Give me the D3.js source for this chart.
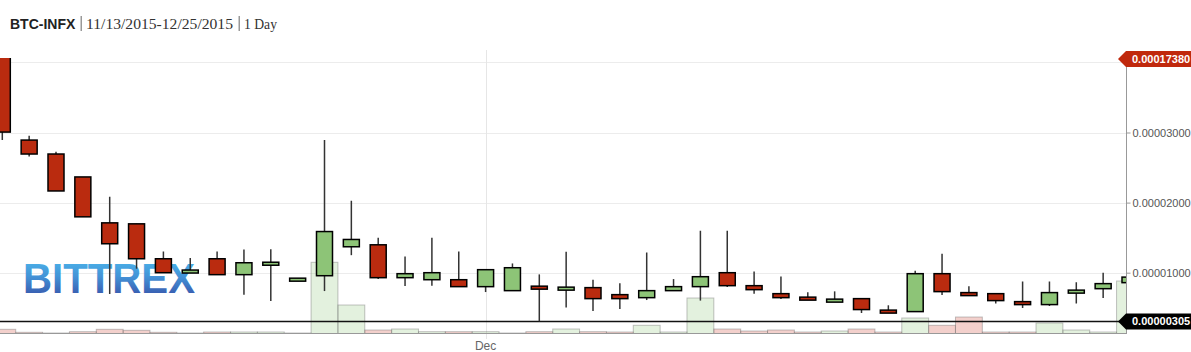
<!DOCTYPE html>
<html><head><meta charset="utf-8">
<script src="https://cdn.jsdelivr.net/npm/d3@7"></script>
<style>body{margin:0;background:#fff;}svg{display:block;}</style>
</head><body>
<svg id="c" width="1191" height="352"></svg>
<script>
const dates = ["2015-11-13","2015-11-14","2015-11-15","2015-11-16","2015-11-17","2015-11-18","2015-11-19","2015-11-20","2015-11-21","2015-11-22","2015-11-23","2015-11-24","2015-11-25","2015-11-26","2015-11-27","2015-11-28","2015-11-29","2015-11-30","2015-12-01","2015-12-02","2015-12-03","2015-12-04","2015-12-05","2015-12-06","2015-12-07","2015-12-08","2015-12-09","2015-12-10","2015-12-11","2015-12-12","2015-12-13","2015-12-14","2015-12-15","2015-12-16","2015-12-17","2015-12-18","2015-12-19","2015-12-20","2015-12-21","2015-12-22","2015-12-23","2015-12-24","2015-12-25"];
const open  = [0.00012000,0.00002892,0.00002693,0.00002366,0.00001711,0.00001697,0.00001199,0.00001000,0.00001199,0.00000972,0.00001114,0.00000886,0.00000957,0.00001370,0.00001398,0.00000929,0.00000900,0.00000900,0.00000801,0.00000744,0.00000801,0.00000758,0.00000787,0.00000687,0.00000644,0.00000744,0.00000801,0.00001000,0.00000815,0.00000701,0.00000644,0.00000587,0.00000630,0.00000459,0.00000445,0.00000986,0.00000716,0.00000701,0.00000587,0.00000545,0.00000716,0.00000772,0.00000858];
const high  = [0.00017380,0.00002953,0.00002725,0.00002366,0.00002085,0.00001697,0.00001303,0.00001208,0.00001303,0.00001331,0.00001336,0.00000915,0.00002892,0.00002028,0.00001498,0.00001232,0.00001498,0.00001303,0.00001043,0.00001132,0.00000976,0.00001299,0.00000900,0.00000848,0.00001289,0.00000909,0.00001597,0.00001597,0.00001018,0.00000947,0.00000720,0.00000734,0.00000630,0.00000535,0.00001028,0.00001270,0.00000805,0.00000701,0.00000876,0.00000876,0.00000862,0.00001000,0.00000937];
const low   = [0.00002892,0.00002659,0.00002166,0.00001797,0.00000696,0.00001057,0.00001000,0.00001000,0.00000972,0.00000687,0.00000596,0.00000886,0.00000738,0.00001250,0.00000909,0.00000809,0.00000815,0.00000801,0.00000724,0.00000744,0.00000305,0.00000502,0.00000454,0.00000482,0.00000610,0.00000744,0.00000602,0.00000795,0.00000701,0.00000624,0.00000616,0.00000587,0.00000425,0.00000431,0.00000445,0.00000681,0.00000673,0.00000559,0.00000496,0.00000525,0.00000559,0.00000639,0.00000858];
const close = [0.00003006,0.00002693,0.00002166,0.00001797,0.00001413,0.00001199,0.00001000,0.00001033,0.00000972,0.00001142,0.00001142,0.00000915,0.00001587,0.00001474,0.00000929,0.00000986,0.00001000,0.00000801,0.00001043,0.00001071,0.00000772,0.00000787,0.00000630,0.00000630,0.00000744,0.00000801,0.00000943,0.00000815,0.00000758,0.00000644,0.00000616,0.00000616,0.00000474,0.00000431,0.00000986,0.00000730,0.00000673,0.00000602,0.00000545,0.00000716,0.00000744,0.00000844,0.00000937];
const volume = [3.7,0.7,0,1.3,3.7,2.7,0.7,0,1,1,1,0,70.7,28,3,4,1.3,1.3,1.3,0,1.3,4,1.3,1,7.7,1,35,4,2,3,1,2,4,1,15,7.7,16,1,1,10,3,1,52];
const gridTicks = [0.00001,0.00002,0.00003,0.00004];
const yTickLabels = [0.00001,0.00002,0.00003];
const maxLabel = "0.00017380";
const lastLine = 0.00000305;
const lastLabel = "0.00000305";

const svg = d3.select("#c");
const W = 1191, plotL = 0, plotR = 1126.5, plotT = 58, plotB = 333;
const parse = d3.utcParse("%Y-%m-%d");
const data = dates.map((d,i)=>({date:parse(d),o:open[i],h:high[i],l:low[i],c:close[i],v:volume[i]}));

const x = d3.scaleUtc().domain([data[0].date, data[data.length-1].date]).range([2.3, 1130]);
const step = x(data[1].date) - x(data[0].date);
const y = d3.scaleLinear().domain([0, 0.00004]).range([342.8, 62.4]);
const yv = d3.scaleLinear().domain([0, 100]).range([plotB, plotB-100]);

const defs = svg.append("defs");
defs.append("clipPath").attr("id","plot").append("rect")
  .attr("x",plotL).attr("y",plotT).attr("width",plotR-plotL).attr("height",plotB-plotT);
const grad = defs.append("linearGradient").attr("id","logo").attr("x1",0).attr("y1",0).attr("x2",0).attr("y2",1);
grad.append("stop").attr("offset","0%").attr("stop-color","#44b8ee");
grad.append("stop").attr("offset","45%").attr("stop-color","#3a8fd6");
grad.append("stop").attr("offset","100%").attr("stop-color","#2a3c9c");

// title
const t = svg.append("g");
t.append("text").attr("x",10).attr("y",28.5).attr("font-family","Liberation Sans, Arial, sans-serif")
  .attr("font-weight","bold").attr("font-size",14).attr("fill","#222").text("BTC-INFX");
t.append("rect").attr("x",80.5).attr("y",16).attr("width",1.5).attr("height",15).attr("fill","#999");
t.append("text").attr("x",86).attr("y",28.5).attr("font-family","Liberation Serif, Georgia, serif")
  .attr("font-size",15).attr("fill","#333").attr("textLength",147).attr("lengthAdjust","spacingAndGlyphs").text("11/13/2015-12/25/2015");
t.append("rect").attr("x",238.5).attr("y",16).attr("width",1.5).attr("height",15).attr("fill","#999");
t.append("text").attr("x",244).attr("y",28.5).attr("font-family","Liberation Serif, Georgia, serif")
  .attr("font-size",15).attr("fill","#333").attr("textLength",33).attr("lengthAdjust","spacingAndGlyphs").text("1 Day");

// grid
const g = svg.append("g");
g.selectAll("line.hg").data(gridTicks).join("line").attr("class","hg")
  .attr("x1",plotL).attr("x2",plotR).attr("y1",d=>Math.round(y(d))+0.5).attr("y2",d=>Math.round(y(d))+0.5)
  .attr("stroke","#ececec").attr("stroke-width",1);
const xTicks = [parse("2015-12-01")];
g.selectAll("line.vg").data(xTicks).join("line").attr("class","vg")
  .attr("x1",d=>Math.round(x(d))+0.5).attr("x2",d=>Math.round(x(d))+0.5).attr("y1",plotT-8).attr("y2",plotB+6)
  .attr("stroke","#e6e6e6").attr("stroke-width",1);
g.selectAll("text.xl").data(xTicks).join("text").attr("class","xl")
  .attr("x",d=>x(d)).attr("y",350).attr("text-anchor","middle")
  .attr("font-family","Liberation Sans, Arial, sans-serif").attr("font-size",12).attr("fill","#666")
  .text(d3.utcFormat("%b"));

// logo
svg.append("text").attr("x",23).attr("y",293).attr("font-family","Liberation Sans, Arial, sans-serif")
  .attr("font-weight","bold").attr("font-size",42).attr("fill","url(#logo)")
  .attr("textLength",172).attr("lengthAdjust","spacingAndGlyphs").attr("opacity",0.95).text("BITTREX");

const plot = svg.append("g").attr("clip-path","url(#plot)");

// volume
plot.selectAll("rect.vol").data(data).join("rect").attr("class","vol")
  .attr("x",d=>x(d.date)-step/2).attr("width",step)
  .attr("y",d=>yv(d.v)).attr("height",d=>plotB-yv(d.v)+1)
  .attr("fill",d=>d.c>=d.o?"rgba(140,196,119,0.24)":"rgba(205,60,40,0.24)")
  .attr("stroke","rgba(120,120,120,0.45)").attr("stroke-width",1);

// last line
plot.append("line").attr("x1",plotL).attr("x2",plotR).attr("y1",y(lastLine)).attr("y2",y(lastLine))
  .attr("stroke","#111").attr("stroke-width",1.5);

// candles
const bw = 16;
plot.selectAll("line.wick").data(data).join("line").attr("class","wick")
  .attr("x1",d=>x(d.date)).attr("x2",d=>x(d.date)).attr("y1",d=>y(d.h)).attr("y2",d=>y(d.l))
  .attr("stroke","#333").attr("stroke-width",1.5);
plot.selectAll("rect.body").data(data).join("rect").attr("class","body")
  .attr("x",d=>x(d.date)-bw/2).attr("width",bw)
  .attr("y",d=>{const h=Math.abs(y(d.o)-y(d.c)); const top=y(Math.max(d.o,d.c)); return h<3? top-(3-h)/2 : top;})
  .attr("height",d=>Math.max(3,Math.abs(y(d.o)-y(d.c))))
  .attr("fill",d=>d.c>=d.o?"#8dc477":"#ba2b0f").attr("stroke","#000").attr("stroke-width",1.5);

// axes lines
svg.append("line").attr("x1",plotL).attr("x2",plotR).attr("y1",plotB+0.5).attr("y2",plotB+0.5).attr("stroke","#999").attr("stroke-width",1);
svg.append("line").attr("x1",plotR).attr("x2",plotR).attr("y1",plotT).attr("y2",plotB+1).attr("stroke","#999").attr("stroke-width",1);

// right axis
const ra = svg.append("g").attr("transform",`translate(${plotR},0)`)
  .call(d3.axisRight(y).tickValues(yTickLabels).tickSize(4).tickPadding(2).tickFormat(d3.format(".8f")));
ra.select(".domain").remove();
ra.selectAll(".tick line").attr("stroke","#999");
ra.selectAll(".tick text").attr("font-family","Liberation Sans, Arial, sans-serif").attr("font-size",11).attr("fill","#555");

// price labels
function flag(yy, color, label){
  const gg = svg.append("g");
  const h = 16, x0 = 1118, x1 = 1126;
  gg.append("path").attr("d",`M${x0},${yy} L${x1},${yy-h/2} L${W},${yy-h/2} L${W},${yy+h/2} L${x1},${yy+h/2} Z`).attr("fill",color);
  gg.append("text").attr("x",1132).attr("y",yy+4).attr("font-family","Liberation Sans, Arial, sans-serif")
    .attr("font-weight","bold").attr("font-size",11).attr("fill","#fff").text(label);
}
flag(59, "#c0290d", maxLabel);
flag(y(lastLine), "#000", lastLabel);
</script>
</body></html>
